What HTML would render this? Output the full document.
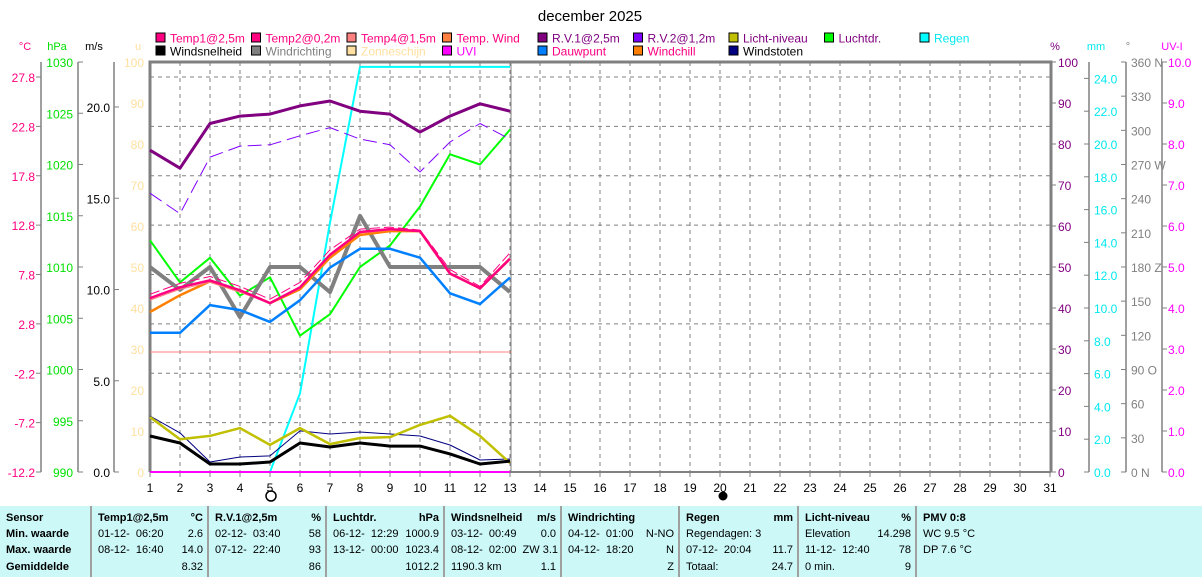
<!DOCTYPE html>
<html><head><meta charset="utf-8">
<style>
body{margin:0;background:#fff;width:1202px;height:577px;overflow:hidden;font-family:"Liberation Sans",sans-serif;}
svg{position:absolute;left:0;top:0}
#tbl{position:absolute;left:0;top:506px;width:1202px;height:71px;background:#ccf8f8;font-size:11px;}
.col{position:absolute;top:0;height:71px;border-left:2px solid #a0a0a0;}
.r{position:absolute;white-space:nowrap}
.b{font-weight:bold}
</style></head><body>
<svg id="chart" width="1202" height="506"></svg>
<div id="tbl"></div>
<script>
const days=[1,2,3,4,5,6,7,8,9,10,11,12,13];
const temp1=[5.4,6.5,7.2,6.2,4.9,6.5,9.8,12.1,12.4,12.2,7.9,6.4,9.4];
const temp2=[5.8,6.9,7.6,6.6,5.3,7.0,10.3,12.4,12.6,12.3,8.3,6.6,10.0];
const temp4=[5.2,6.3,7.0,6.0,4.9,6.4,9.7,12.0,12.3,12.2,7.8,6.4,9.3];
const windchill=[4.0,5.7,7.1,6.2,4.9,6.3,9.5,11.8,12.2,12.2,7.9,6.4,9.4];
const dewpoint=[1.9,1.9,4.7,4.2,3.0,5.2,8.5,10.4,10.4,9.5,5.9,4.8,7.5];
const rv1=[78.5,74.1,85,86.8,87.3,89.3,90.5,88,87.3,82.9,86.8,89.8,88];
const rv2=[68,63,76.8,79.5,79.8,82,84,81.2,79.8,73.2,80.5,85,81.2];
const pressure=[1012.6,1008.5,1010.9,1007.2,1009.0,1003.3,1005.4,1010.0,1012.1,1015.9,1021.0,1020.0,1023.4];
const winddir=[180,160,180,136,180,180,158,225,180,180,180,180,158];
const rain=[0,0,0,0,0,4.8,15.2,24.7,24.7,24.7,24.7,24.7,24.7];
const windspeed=[1.97,1.59,0.44,0.44,0.55,1.59,1.37,1.59,1.42,1.42,0.99,0.44,0.6];
const gusts=[3.07,2.14,0.55,0.82,0.88,2.25,2.08,2.19,2.08,1.97,1.48,0.66,0.71];
const light=[13.4,8,8.8,10.7,6.6,10.7,6.8,8.3,8.5,11.5,13.7,8.8,2.2];
const uvi=[0,0,0,0,0,0,0,0,0,0,0,0,0];
const tempTicks=[-12.2,-7.2,-2.2,2.8,7.8,12.8,17.8,22.8,27.8];
const hpaTicks=[990,995,1000,1005,1010,1015,1020,1025,1030];
const msTicks=[0,5,10,15,20];
const uTicks=[0,10,20,30,40,50,60,70,80,90,100];
const mmTicks=[0,2,4,6,8,10,12,14,16,18,20,22,24];
const degTicks=[0,30,60,90,120,150,180,210,240,270,300,330,360];
const uvTicks=[0,1,2,3,4,5,6,7,8,9,10];

const X0=150,DX=30,Y0=472;
const xDay=d=>X0+(d-1)*DX;
const yU=u=>Y0-u*4.1;
const yT=t=>Y0-(t+12.2)*9.875;
const yP=p=>Y0-(p-990)*10.25;
const yWs=v=>Y0-v*18.25;
const yDeg=d=>Y0-d*410/360;
const yMm=m=>Y0-m*16.4;
const yUV=v=>Y0-v*41;

const svg=document.getElementById('chart');
const NS='http://www.w3.org/2000/svg';
function mk(tag,attrs,parent){const e=document.createElementNS(NS,tag);for(const k in attrs)e.setAttribute(k,attrs[k]);(parent||svg).appendChild(e);return e;}
function txt(x,y,s,fill,anchor,size){const t=mk('text',{x:x,y:y,fill:fill,'font-size':size||12,'text-anchor':anchor||'start'});t.textContent=s;return t;}

// title
let t=txt(590,21,'december 2025','#000','middle',15);



// grid
for(let d=2;d<=31;d++){const l=mk('line',{x1:xDay(d),y1:62,x2:xDay(d),y2:472,stroke:'#808080','stroke-dasharray':'4,4','stroke-width':1});

}
tempTicks.forEach(v=>{const l=mk('line',{x1:150,y1:yT(v),x2:1050,y2:yT(v),stroke:'#808080','stroke-dasharray':'4,4'});

});

// frame
let fr=mk('path',{d:'M150,472 L150,62 L1051,62 L1051,472',fill:'none',stroke:'#808080','stroke-width':3});


let ax=mk('line',{x1:150,y1:472,x2:1051,y2:472,stroke:'#808080','stroke-width':2});


let dl=mk('line',{x1:511,y1:62,x2:511,y2:472,stroke:'#808080','stroke-width':1});



// x labels
for(let d=1;d<=31;d++){mk('line',{x1:xDay(d),y1:472,x2:xDay(d),y2:477,stroke:'#808080'});
const l=txt(xDay(d),492,String(d),'#000','middle',12);

}
let m1=mk('circle',{cx:271,cy:496,r:5,fill:'none',stroke:'#000','stroke-width':1.5});


let m2=mk('circle',{cx:723,cy:496,r:4.5,fill:'#000'});



// axes
function vaxis(x,y1,y2,name){const l=mk('line',{x1:x,y1:y1,x2:x,y2:y2,stroke:'#808080','stroke-width':1.5});}
vaxis(41,62,472,'celsius-axis');vaxis(78,62,472,'hpa-axis');vaxis(114,62,472,'ms-axis');
vaxis(1089,62,472,'mm-axis');vaxis(1126,62,472,'degree-axis');vaxis(1162,62,472,'uvi-axis');
tempTicks.forEach(v=>{mk('line',{x1:36,y1:yT(v),x2:41,y2:yT(v),stroke:'#808080'});const l=txt(35,yT(v)+5,v.toFixed(1),'#ff0080','end');});
hpaTicks.forEach(v=>{mk('line',{x1:78,y1:yP(v),x2:83,y2:yP(v),stroke:'#808080'});const l=txt(73,yP(v)+5,String(v),'#00e000','end');});
msTicks.forEach(v=>{mk('line',{x1:114,y1:yWs(v),x2:119,y2:yWs(v),stroke:'#808080'});const l=txt(110,yWs(v)+5,v.toFixed(1),'#000','end');});
uTicks.forEach(v=>{const l=txt(144,yU(v)+5,String(v),'#ffe0a0','end');});
uTicks.forEach(v=>{mk('line',{x1:1051,y1:yU(v),x2:1056,y2:yU(v),stroke:'#808080'});const l=txt(1058,yU(v)+5,String(v),'#800080','start');});
mmTicks.forEach(v=>{mk('line',{x1:1084,y1:yMm(v),x2:1089,y2:yMm(v),stroke:'#808080'});const l=txt(1094,yMm(v)+5,v.toFixed(1),'#00e8f0','start');});
const dirLetter={0:'  N',90:'  O',180:' Z',270:' W',360:' N'};
degTicks.forEach(v=>{mk('line',{x1:1121,y1:yDeg(v),x2:1126,y2:yDeg(v),stroke:'#808080'});const l=txt(1131,yDeg(v)+5,String(v)+(dirLetter[v]||''),'#808080','start');l.setAttribute('xml:space','preserve');});
uvTicks.forEach(v=>{mk('line',{x1:1162,y1:yUV(v),x2:1167,y2:yUV(v),stroke:'#808080'});const l=txt(1168,yUV(v)+5,v.toFixed(1),'#ff00ff','start');});
[[25,'°C','#ff0080'],[57,'hPa','#00e000'],[94,'m/s','#000'],[138,'u','#ffe0a0'],[1055,'%','#800080'],[1096,'mm','#00e8f0'],[1128,'°','#808080'],[1172,'UV-I','#ff00ff']].forEach(a=>{const l=txt(a[0],50,a[1],a[2],'middle',11);});

// reference line
let rl=mk('line',{x1:150,y1:352,x2:511,y2:352,stroke:'#ff8080','stroke-width':1});



function series(vals,yf,color,w,name,dash){const pts=vals.map((v,i)=>xDay(days[i])+','+yf(v).toFixed(1)).join(' ');
const p=mk('polyline',{points:pts,fill:'none',stroke:color,'stroke-width':w,'stroke-linejoin':'round'});
if(dash)p.setAttribute('stroke-dasharray',dash);

}
series(rain,yMm,'#00ffff',2,'rain-line');
series(pressure,yP,'#00ff00',2,'pressure-line');
series(winddir,yDeg,'#808080',4,'wind-direction-line');
series(rv2,yU,'#8000ff',1,'humidity2-line','14,6');
series(rv1,yU,'#800080',3,'humidity1-line');
series(dewpoint,yT,'#0080ff',2.5,'dewpoint-line');
series(windchill,yT,'#ff8000',2.5,'windchill-line');
series(temp4,yT,'#ff8080',1,'temp4-line');
series(temp2,yT,'#ff0080',1,'temp2-line','10,4');
series(temp1,yT,'#ff0080',2.5,'temp1-line');
series(gusts,yWs,'#000080',1,'wind-gusts-line');
series(light,yU,'#c0c000',2.5,'light-level-line');
series(windspeed,yWs,'#000',3,'wind-speed-line');
series(uvi,yUV,'#ff00ff',2,'uvi-line');

// legend
const legNames=['Temp1@2,5m','Temp2@0,2m','Temp4@1,5m','Temp. Wind','R.V.1@2,5m','R.V.2@1,2m','Licht-niveau','Luchtdr.','Regen','Windsnelheid','Windrichting','Zonneschijn','UVI','Dauwpunt','Windchill','Windstoten'];
const legColors=['#ff0080','#ff0080','#ff8080','#ff8040','#800080','#8000ff','#c0c000','#00ff00','#00ffff','#000','#808080','#ffe0a0','#ff00ff','#0080ff','#ff8000','#000080'];
const legText=['#ff0080','#ff0080','#ff0080','#ff0080','#800080','#800080','#800080','#800080','#00e8f0','#000','#808080','#ffe0a0','#ff00ff','#ff0080','#ff0080','#000'];
legNames.forEach((n,i)=>{const row=i<9?0:1,col=i<9?i:i-9;const x=161+col*95.5,y=row?51:38;
const g=mk('g',{});


mk('rect',{x:x-5,y:y-5,width:9,height:9,fill:legColors[i],stroke:'#000','stroke-width':1},g);
const tt=document.createElementNS(NS,'text');tt.setAttribute('x',x+9);tt.setAttribute('y',y+4.5);tt.setAttribute('font-size',12);tt.setAttribute('fill',legText[i]);tt.textContent=n;g.appendChild(tt);});

// table
const tbl=document.getElementById('tbl');
const cols=[
 {x:0,w:90,rows:[['Sensor',''],['Min. waarde',''],['Max. waarde',''],['Gemiddelde','']],bold:true},
 {x:90,w:117,rows:[['Temp1@2,5m','°C'],['01-12-  06:20','2.6'],['08-12-  16:40','14.0'],['','8.32']]},
 {x:207,w:118,rows:[['R.V.1@2,5m','%'],['02-12-  03:40','58'],['07-12-  22:40','93'],['','86']]},
 {x:325,w:118,rows:[['Luchtdr.','hPa'],['06-12-  12:29','1000.9'],['13-12-  00:00','1023.4'],['','1012.2']]},
 {x:443,w:117,rows:[['Windsnelheid','m/s'],['03-12-  00:49','0.0'],['08-12-  02:00  ZW 3.1',''],['1190.3 km','1.1']]},
 {x:560,w:118,rows:[['Windrichting',''],['04-12-  01:00','N-NO'],['04-12-  18:20','N'],['','Z']]},
 {x:678,w:119,rows:[['Regen','mm'],['Regendagen: 3',''],['07-12-  20:04','11.7'],['Totaal:','24.7']]},
 {x:797,w:118,rows:[['Licht-niveau','%'],['Elevation','14.298'],['11-12-  12:40','78'],['0 min.','9']]},
 {x:915,w:287,rows:[['PMV 0:8',''],['WC 9.5 °C',''],['DP 7.6 °C',''],['','']]}
];
const rowY=[6,22,38,55];
cols.forEach((c,ci)=>{const d=document.createElement('div');d.className='col';d.style.left=c.x+'px';d.style.width=c.w+'px';if(ci===0)d.style.borderLeft='none';


c.rows.forEach((r,ri)=>{const b=(c.bold||ri===0)?' b':'';
const a=document.createElement('div');a.className='r'+b;a.style.left='6px';a.style.top=rowY[ri]+'px';a.style.whiteSpace='pre';a.textContent=r[0];d.appendChild(a);
const e=document.createElement('div');e.className='r'+b;e.style.right='6px';e.style.top=rowY[ri]+'px';e.textContent=r[1];d.appendChild(e);});
tbl.appendChild(d);});
</script>
</body></html>
